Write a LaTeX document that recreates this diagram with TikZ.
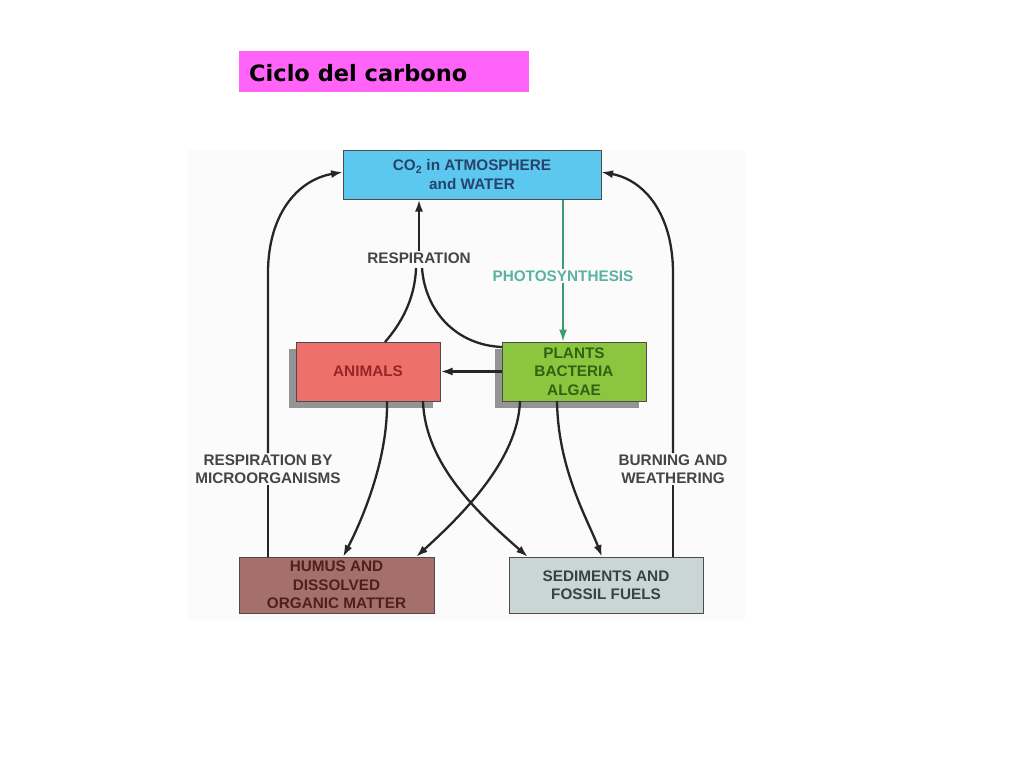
\documentclass[tikz,border=0pt]{standalone}
\usepackage{fontspec}
\setmainfont{Liberation Sans}
\newfontfamily\titlefont{DejaVu Sans}
\usetikzlibrary{arrows.meta,shadows,calc}
\definecolor{titlecol}{HTML}{FF63F8}
\definecolor{co2col}{HTML}{5CC8F0}
\definecolor{animcol}{HTML}{EE706A}
\definecolor{plantcol}{HTML}{8CC63E}
\definecolor{humcol}{HTML}{A6706A}
\definecolor{sedcol}{HTML}{CAD6D3}
\definecolor{co2txt}{HTML}{27436A}
\definecolor{animtxt}{HTML}{962626}
\definecolor{planttxt}{HTML}{2F6214}
\definecolor{humtxt}{HTML}{4E2219}
\definecolor{sedtxt}{HTML}{384242}
\definecolor{labtxt}{HTML}{454545}
\definecolor{phototxt}{HTML}{5AB2A2}
\definecolor{photoline}{HTML}{3E9A72}
\definecolor{bgcol}{HTML}{FBFBFB}
\begin{document}
\begin{tikzpicture}[x=1pt,y=-1pt,
  box/.style={draw=black!70, line width=1pt, rectangle, align=center, inner sep=0pt,
    font=\bfseries\fontsize{15.3}{18.5}\selectfont},
  shad/.style={drop shadow={shadow xshift=-7pt, shadow yshift=-7pt, fill=black!42, opacity=1}},
  lab/.style={align=center, inner sep=1pt, text=labtxt, font=\bfseries\fontsize{15.3}{18.5}\selectfont},
  flow/.style={line width=2.3pt, black!85, -{Latex[length=12pt,width=8pt]}},
  plain/.style={line width=2.3pt, black!85}
]
\useasboundingbox (0,0) rectangle (1024,768);
\fill[white] (0,0) rectangle (1024,768);
\fill[bgcol] (188,150) rectangle (745,620);

% title
\node[fill=titlecol, minimum width=290, minimum height=41, inner sep=0pt] (title) at (384,71.5) {};
\node[anchor=west, inner sep=0pt, font=\titlefont\bfseries\fontsize{22.5}{26}\selectfont] (titletext) at (249,73) {Ciclo del carbono};

% boxes
\node[box, fill=co2col, text=co2txt, minimum width=258, minimum height=49] (co2) at (472,174.5) {CO\textsubscript{2} in ATMOSPHERE\\and WATER};
\node[box, shad, fill=animcol, text=animtxt, minimum width=144, minimum height=59] (animals) at (368,371.5) {ANIMALS};
\node[box, shad, fill=plantcol, text=planttxt, minimum width=144, minimum height=59] (plants) at (574,371.5) {PLANTS\\BACTERIA\\ALGAE};
\node[box, fill=humcol, text=humtxt, minimum width=195, minimum height=56] (humus) at (336.5,585) {HUMUS AND\\DISSOLVED\\ORGANIC MATTER};
\node[box, fill=sedcol, text=sedtxt, minimum width=194, minimum height=56] (sed) at (606,585) {SEDIMENTS AND\\FOSSIL FUELS};

% labels
\node[lab] (resp) at (419,258) {RESPIRATION};
\node[lab, text=phototxt] (photo) at (563,276) {PHOTOSYNTHESIS};
\node[lab] (rbm) at (268,469) {RESPIRATION BY\\MICROORGANISMS};
\node[lab] (bw) at (673,469) {BURNING AND\\WEATHERING};

% coordinates
\coordinate (hs) at (268,557);
\coordinate (ls) at (268,273);
\coordinate (ss) at (673,557);
\coordinate (rs) at (673,273);
\coordinate (rl) at (416,268);
\coordinate (rr) at (422,268);
\coordinate (a1) at (387,401);
\coordinate (a2) at (423,401);
\coordinate (p1) at (520,401);
\coordinate (p2) at (557,401);
\coordinate (h1) at (343,557);
\coordinate (h2) at (416,557);
\coordinate (s1) at (528,557);
\coordinate (s2) at (602,557);
\coordinate (co2l) at (343,172);
\coordinate (co2r) at (601,172);
\coordinate (anitop) at (385,342);
\coordinate (plleft) at (502,347);

% big arcs
\draw[plain] (hs) -- (rbm.south);
\draw[flow] (rbm.north) -- (ls) .. controls (268,215) and (297,180) .. (co2l);
\draw[plain] (ss) -- (bw.south);
\draw[flow] (bw.north) -- (rs) .. controls (673,215) and (645,180) .. (co2r);

% respiration
\draw[flow] (resp.north) -- (resp.north |- co2.south);
\draw[plain] (rl) .. controls (415,300) and (400,325) .. (anitop);
\draw[plain] (rr) .. controls (425,310) and (455,345) .. (plleft);

% photosynthesis
\draw[line width=1.7pt, photoline] (photo.north |- co2.south) -- (photo.north);
\draw[line width=1.7pt, photoline, -{Latex[length=12pt,width=8pt]}] (photo.south) -- (photo.south |- plants.north);

% plants -> animals
\draw[flow] (plants.west) -- (animals.east);

% lower flows
\draw[flow] (a1) .. controls (388,460) and (362,520) .. (h1);
\draw[flow] (a2) .. controls (425,465) and (480,515) .. (s1);
\draw[flow] (p1) .. controls (518,460) and (462,515) .. (h2);
\draw[flow] (p2) .. controls (558,470) and (588,520) .. (s2);
\end{tikzpicture}
\end{document}
